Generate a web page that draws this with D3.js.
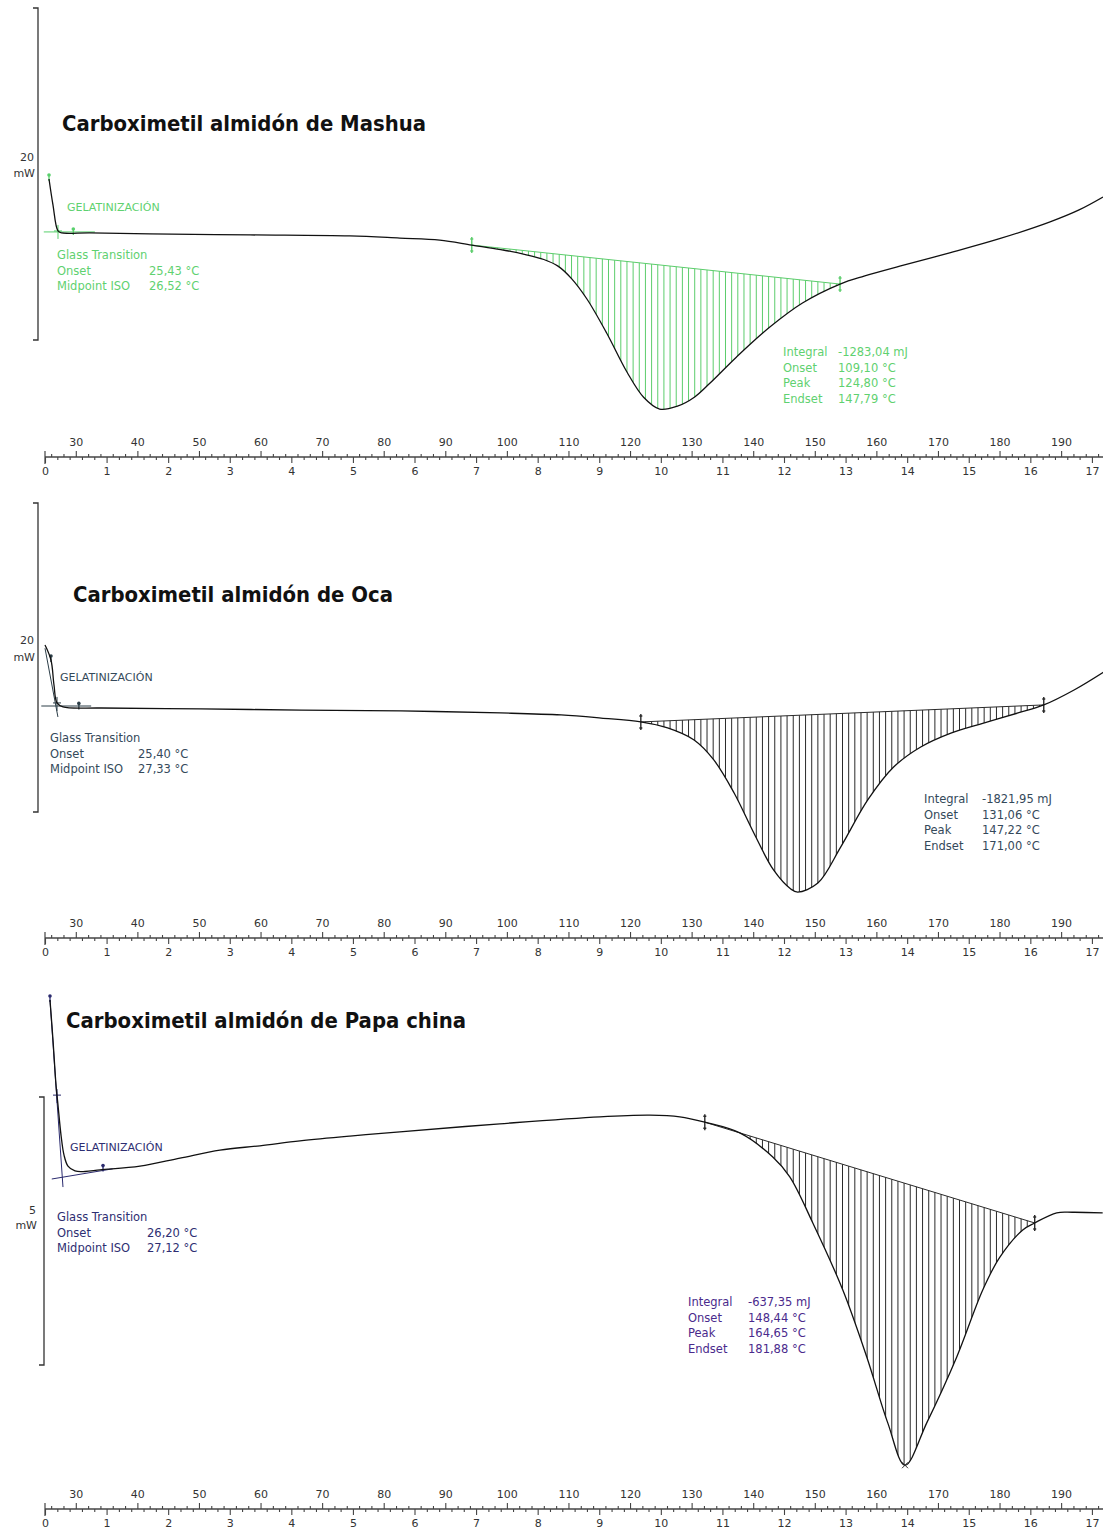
<!DOCTYPE html>
<html>
<head>
<meta charset="utf-8">
<script src="https://cdn.jsdelivr.net/npm/d3@7"></script>
<style>
  html, body { margin: 0; padding: 0; background: #fff; }
  svg { display: block; }
  text { font-family: "DejaVu Sans", Verdana, sans-serif; }
</style>
</head>
<body>
<svg id="chart" width="1103" height="1536"></svg>
<script>
// DSC thermograms, heating from 25 °C at 10 K/min
const startTemp = 25;
const heatingRate = 10;            // K/min
const timeEnd = 17.18;             // min shown on the time axis
const timeLabels = d3.range(0, 18);          // 0 … 17 min
const tempLabels = d3.range(30, 200, 10);    // 30 … 190 °C

const sampleNames = [
  "Carboximetil almidón de Mashua",
  "Carboximetil almidón de Oca",
  "Carboximetil almidón de Papa china"
];
const flowSpans = [20, 20, 5];     // mW covered by each scale bracket

// Heat-flow curves: temperature (°C) and heat flow (mW)
const mashuaTemp = [25.65, 26.30, 27.11, 27.76, 32.3, 42.0, 58.3, 74.5, 82.6, 89.1, 94.3, 99.0, 103.0, 106.0, 108.3, 110.5, 113.0, 116.2, 119.5, 122.2, 124.8, 127.6, 130.5, 133.0, 137.3, 142.7, 148.0, 154.1, 158.0, 163.8, 171.9, 180.0, 188.1, 193.0, 196.8];
const mashuaFlow = [9.70, 8.13, 6.57, 6.45, 6.45, 6.39, 6.33, 6.27, 6.14, 6.02, 5.72, 5.45, 5.15, 4.85, 4.45, 3.70, 2.47, 0.42, -1.93, -3.45, -4.16, -4.00, -3.43, -2.59, -1.02, 0.78, 2.23, 3.37, 3.85, 4.45, 5.25, 6.10, 7.10, 7.85, 8.61];

const ocaTemp = [25.0, 25.97, 26.46, 26.95, 27.92, 34.1, 50.3, 66.6, 82.8, 99.0, 108.8, 115.3, 121.75, 126.1, 130.4, 133.6, 136.9, 140.1, 143.3, 146.1, 147.22, 150.5, 154.2, 158.6, 162.8, 167.2, 172.1, 177.4, 183.0, 187.18, 192.1, 196.9];
const ocaFlow = [10.81, 9.84, 8.22, 7.06, 6.80, 6.73, 6.67, 6.60, 6.54, 6.41, 6.28, 6.08, 5.83, 5.44, 4.66, 3.37, 1.23, -1.36, -3.75, -4.98, -5.18, -4.60, -2.27, 0.78, 2.91, 4.21, 5.11, 5.76, 6.41, 6.93, 7.90, 9.06];

const papaTemp = [25.81, 26.30, 26.79, 27.11, 27.60, 28.08, 28.73, 29.87, 31.5, 33.93, 40.42, 46.92, 53.41, 59.90, 66.40, 74.51, 82.63, 98.86, 115.10, 123.21, 128.08, 132.14, 137.82, 143.18, 145.94, 149.68, 154.55, 158.44, 161.85, 164.65, 168.18, 173.05, 177.27, 180.03, 183.77, 185.71, 189.29, 191.88, 196.75];
const papaFlow = [6.81, 6.06, 5.22, 4.85, 4.29, 3.92, 3.71, 3.62, 3.61, 3.64, 3.71, 3.86, 4.01, 4.09, 4.18, 4.27, 4.35, 4.50, 4.63, 4.66, 4.63, 4.53, 4.33, 3.88, 3.51, 2.65, 1.40, 0.15, -1.08, -1.87, -1.08, 0.15, 1.40, 2.01, 2.52, 2.65, 2.84, 2.85, 2.84];

// Integration limits of the gelatinization peak (°C)
const integralLimits = [[94.3, 154.1], [121.75, 187.18], [132.14, 185.71]];

// Glass-transition construction lines ([T, mW] pairs) and limit marks (°C)
const tgLines = [
  [[[24.8, 6.51], [33.1, 6.51]]],
  [[[24.4, 6.86], [32.5, 6.86]], [[25.0, 10.6], [27.1, 6.15]]],
  [[[26.1, 3.47], [36.0, 3.66]], [[25.81, 6.81], [27.92, 3.32]]]
];
const tgMarks = [[25.65, 27.11, 29.6], [25.97, 26.95, 30.5], [25.81, 26.95, 34.42]];

// Evaluation texts
const tgOnset = ["25,43 °C", "25,40 °C", "26,20 °C"];
const tgMidpoint = ["26,52 °C", "27,33 °C", "27,12 °C"];
const peakIntegral = ["-1283,04 mJ", "-1821,95 mJ", "-637,35 mJ"];
const peakOnset = ["109,10 °C", "131,06 °C", "148,44 °C"];
const peakTop = ["124,80 °C", "147,22 °C", "164,65 °C"];
const peakEndset = ["147,79 °C", "171,00 °C", "181,88 °C"];

const temps = [mashuaTemp, ocaTemp, papaTemp];
const flows = [mashuaFlow, ocaFlow, papaFlow];

// Page layout of the three stacked panels
const layouts = [
  { top: 8, bottom: 340, bx: 38, axisY: 457, title: [62, 131, 364], mw: [34, 161, 177],
    gel: [67, 211], gt: [57, 149, 259], integ: [783, 838, 356],
    ink: "#58d06c", gtInk: "#5fd170", intInk: "#5fd170", hatch: "#5ccd6c" },
  { top: 503, bottom: 812, bx: 38, axisY: 938, title: [73, 602, 320], mw: [34, 644, 661],
    gel: [60, 681], gt: [50, 138, 742], integ: [924, 982, 803],
    ink: "#2c3e48", gtInk: "#34495a", intInk: "#34495a", hatch: "#2a2a2a" },
  { top: 1097, bottom: 1365, bx: 44, axisY: 1509, title: [66, 1028, 400], mw: [36, 1214, 1229],
    gel: [70, 1151], gt: [57, 147, 1221], integ: [688, 748, 1306],
    ink: "#2a2a6e", gtInk: "#2e2e72", intInk: "#4a2a8c", hatch: "#2a2a2a" }
];

const svg = d3.select("#chart");
const defs = svg.append("defs");

const xTime = d3.scaleLinear().domain([0, timeEnd]).range([45, 1103]);
const xTemp = d3.scaleLinear()
  .domain([startTemp, startTemp + heatingRate * timeEnd])
  .range([45, 1103]);

const smooth = d3.curveCatmullRom.alpha(0.5);

layouts.forEach((L, i) => {
  const g = svg.append("g");
  const span = flowSpans[i];
  const y = d3.scaleLinear().domain([0, span]).range([L.bottom, L.top]);
  const data = temps[i].map((t, k) => [t, flows[i][k]]);
  const flowAt = d3.scaleLinear().domain(temps[i]).range(flows[i]);

  // scale bracket
  const br = g.append("g").attr("stroke", "#333").attr("stroke-width", 1.3).attr("fill", "none");
  br.append("path").attr("d",
    `M${L.bx - 5},${y(span)}H${L.bx}V${y(0)}H${L.bx - 5}`);
  g.append("text").attr("x", L.mw[0]).attr("y", L.mw[1]).attr("text-anchor", "end")
    .attr("font-size", 11).attr("fill", "#333").text(span);
  g.append("text").attr("x", L.mw[0] + 1).attr("y", L.mw[2]).attr("text-anchor", "end")
    .attr("font-size", 11).attr("fill", "#333").text("mW");

  // title
  g.append("text").attr("x", L.title[0]).attr("y", L.title[1])
    .attr("textLength", L.title[2]).attr("lengthAdjust", "spacingAndGlyphs")
    .attr("font-family", "'Liberation Sans', Arial, sans-serif")
    .attr("font-weight", "bold").attr("font-size", 22).attr("fill", "#111")
    .text(sampleNames[i]);

  // hatched peak area between the integration baseline and the curve
  const [t0, t1] = integralLimits[i];
  const b0 = flowAt(t0), b1 = flowAt(t1);
  const baseAt = d3.scaleLinear().domain([t0, t1]).range([b0, b1]);
  const clipId = "above-curve-" + i;
  defs.append("clipPath").attr("id", clipId).append("path")
    .attr("d", d3.area().x(d => xTemp(d[0])).y0(L.top - 120).y1(d => y(d[1]))
      .curve(smooth)(data));
  const hatchT = d3.range(Math.ceil(t0) + 0.5, t1, 1);
  g.append("g").attr("clip-path", `url(#${clipId})`)
    .selectAll("line").data(hatchT).join("line")
    .attr("x1", d => xTemp(d)).attr("x2", d => xTemp(d))
    .attr("y1", d => y(baseAt(d))).attr("y2", L.axisY - 20)
    .attr("stroke", L.hatch).attr("stroke-width", 1);
  g.append("line")
    .attr("x1", xTemp(t0)).attr("y1", y(b0)).attr("x2", xTemp(t1)).attr("y2", y(b1))
    .attr("stroke", L.hatch).attr("stroke-width", 1);

  // integration limit marks
  [[t0, b0], [t1, b1]].forEach(([t, f]) => {
    const px = xTemp(t), py = y(f);
    g.append("path").attr("d",
      `M${px},${py - 8}V${py + 8}M${px - 1.5},${py - 6}H${px + 1.5}M${px - 1.5},${py + 6}H${px + 1.5}`)
      .attr("stroke", L.hatch).attr("stroke-width", 1.4).attr("fill", "none");
  });

  // glass-transition construction
  tgLines[i].forEach(seg => {
    g.append("line")
      .attr("x1", xTemp(seg[0][0])).attr("y1", y(seg[0][1]))
      .attr("x2", xTemp(seg[1][0])).attr("y2", y(seg[1][1]))
      .attr("stroke", L.ink).attr("stroke-width", 1);
  });
  tgMarks[i].forEach((t, k) => {
    const px = xTemp(t), py = y(flowAt(t));
    if (k === 1) {
      g.append("path").attr("d", `M${px},${py - 6}V${py + 8}M${px - 4},${py}H${px + 4}`)
        .attr("stroke", L.ink).attr("stroke-width", 1).attr("fill", "none");
    } else {
      g.append("path").attr("d", `M${px},${py - 5}V${py + 2}`)
        .attr("stroke", L.ink).attr("stroke-width", 1.3).attr("fill", "none");
      g.append("circle").attr("cx", px).attr("cy", py - 4).attr("r", 1.8).attr("fill", L.ink);
    }
  });

  // heat-flow curve
  g.append("path").datum(data)
    .attr("d", d3.line().x(d => xTemp(d[0])).y(d => y(d[1])).curve(smooth))
    .attr("fill", "none").attr("stroke", "#111").attr("stroke-width", 1.3);

  // peak marker on the lowest point of the last curve
  const peak = data.reduce((a, b) => (b[1] < a[1] ? b : a));
  if (i === 2) {
    const px = xTemp(peak[0]), py = y(peak[1]);
    g.append("path").attr("d", `M${px - 3},${py - 3}L${px + 3},${py + 3}M${px - 3},${py + 3}L${px + 3},${py - 3}`)
      .attr("stroke", "#333").attr("stroke-width", 1);
  }

  // evaluation texts
  const txt = (x, yy, s, fill, size) => g.append("text").attr("x", x).attr("y", yy)
    .attr("font-size", size).attr("fill", fill).text(s);
  txt(L.gel[0], L.gel[1], "GELATINIZACIÓN", L.gtInk, 11);
  txt(L.gt[0], L.gt[2], "Glass Transition", L.gtInk, 11.5);
  txt(L.gt[0], L.gt[2] + 15.5, "Onset", L.gtInk, 11.5);
  txt(L.gt[1], L.gt[2] + 15.5, tgOnset[i], L.gtInk, 11.5);
  txt(L.gt[0], L.gt[2] + 31, "Midpoint ISO", L.gtInk, 11.5);
  txt(L.gt[1], L.gt[2] + 31, tgMidpoint[i], L.gtInk, 11.5);
  const rows = [["Integral", peakIntegral[i]], ["Onset", peakOnset[i]],
                ["Peak", peakTop[i]], ["Endset", peakEndset[i]]];
  rows.forEach((r, k) => {
    txt(L.integ[0], L.integ[2] + k * 15.7, r[0], L.intInk, 11.5);
    txt(L.integ[1], L.integ[2] + k * 15.7, r[1], L.intInk, 11.5);
  });

  // dual abscissa: temperature above, time below
  const ax = g.append("g").attr("transform", `translate(0,${L.axisY})`);
  ax.append("line").attr("x1", xTime(0)).attr("x2", 1103)
    .attr("stroke", "#444").attr("stroke-width", 1.4);
  ax.append("line").attr("x1", xTime(0)).attr("x2", xTime(0)).attr("y1", -6).attr("y2", 7)
    .attr("stroke", "#444").attr("stroke-width", 1.2);

  const styleAxis = sel => {
    sel.select(".domain").remove();
    sel.selectAll(".tick line").attr("stroke", "#444").attr("stroke-width", 1.1);
    sel.selectAll(".tick text").attr("fill", "#333").attr("font-size", 11)
      .attr("font-family", "'DejaVu Sans', Verdana, sans-serif");
  };
  ax.append("g").call(d3.axisTop(xTemp)
      .tickValues(d3.range(26, 197, 2).filter(v => v % 10 !== 0))
      .tickSize(3).tickFormat("")).call(styleAxis);
  ax.append("g").call(d3.axisTop(xTemp).tickValues(tempLabels).tickSize(6).tickPadding(5)
      .tickFormat(d3.format("d"))).call(styleAxis);
  ax.append("g").call(d3.axisBottom(xTime)
      .tickValues(d3.range(1, 86).map(k => k * 0.2).filter(v => Math.abs(v - Math.round(v)) > 0.01))
      .tickSize(3).tickFormat("")).call(styleAxis);
  ax.append("g").call(d3.axisBottom(xTime).tickValues(timeLabels).tickSize(6).tickPadding(4)
      .tickFormat(d3.format("d"))).call(styleAxis);
});
</script>
</body>
</html>
